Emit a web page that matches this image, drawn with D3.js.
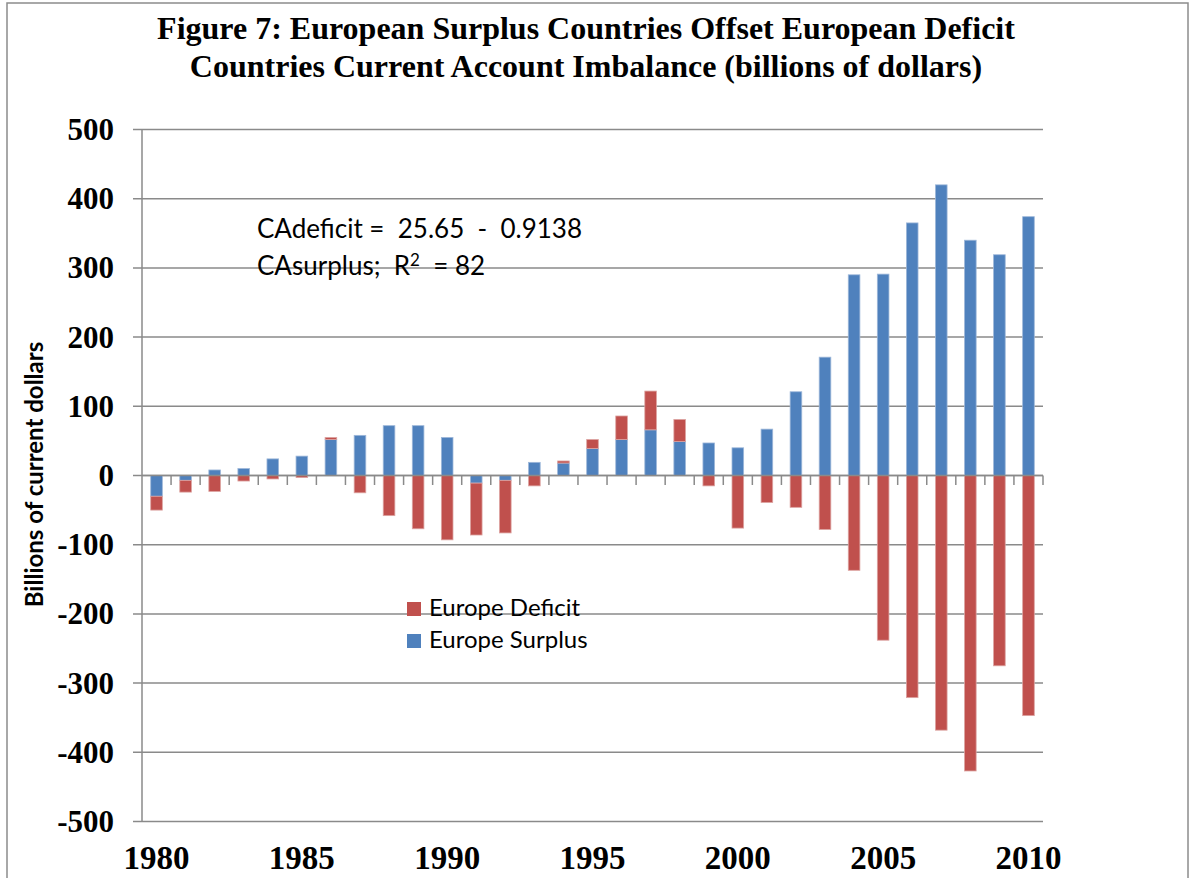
<!DOCTYPE html>
<html>
<head>
<meta charset="utf-8">
<script src="https://cdn.jsdelivr.net/npm/d3@7"></script>
<style>
  body { margin: 0; background: #fff; }
  svg { display: block; }
</style>
</head>
<body>
<svg id="chart"></svg>
<script>
// Years along the x axis
const years = [1980, 1981, 1982, 1983, 1984, 1985, 1986, 1987, 1988, 1989,
               1990, 1991, 1992, 1993, 1994, 1995, 1996, 1997, 1998, 1999,
               2000, 2001, 2002, 2003, 2004, 2005, 2006, 2007, 2008, 2009, 2010];

// Billions of current dollars
const surplus = [-30, -7, 8, 10, 24, 28, 52, 58, 72, 72,
                 55, -11, -7, 19, 18, 39, 52, 66, 49, 47,
                 40, 67, 121, 171, 290, 291, 365, 420, 340, 319, 374];
const deficit = [-20, -17, -23, -8, -5, -3, 3, -25, -58, -77,
                 -93, -75, -76, -15, 3, 13, 34, 56, 32, -15,
                 -76, -39, -46, -78, -137, -238, -321, -368, -427, -275, -347];

const yTicks = [500, 400, 300, 200, 100, 0, -100, -200, -300, -400, -500];
const yearLabels = [1980, 1985, 1990, 1995, 2000, 2005, 2010];

const seriesKeys = ['surplus', 'deficit'];
const seriesNames = { deficit: 'Europe Deficit', surplus: 'Europe Surplus' };
const colors = { surplus: '#4F81BD', deficit: '#C0504D' };
const edges = { surplus: '#9db7d9', deficit: '#dca3a1' };

const W = 1202, H = 878;
const margin = { left: 142, right: 159, top: 129.5, bottom: 56.5 };
const plotW = W - margin.left - margin.right;
const plotH = H - margin.top - margin.bottom;
const serif = '"Liberation Serif", "Times New Roman", serif';
const sans = 'Lato, "Open Sans", sans-serif';

const svg = d3.select('#chart').attr('width', W).attr('height', H);

// outer frame of the figure
svg.append('rect')
    .attr('x', 7).attr('y', 3)
    .attr('width', 1181).attr('height', 900)
    .attr('fill', 'none')
    .attr('stroke', '#8c8c8c')
    .attr('stroke-width', 1.5);

// Title
const title = svg.append('text')
    .attr('text-anchor', 'middle')
    .style('font-family', serif)
    .style('font-weight', 'bold')
    .style('font-size', '32px');
title.append('tspan').attr('x', 586).attr('y', 39)
    .text('Figure 7: European Surplus Countries Offset European Deficit');
title.append('tspan').attr('x', 586).attr('y', 77)
    .text('Countries Current Account Imbalance (billions of dollars)');

const data = years.map((y, i) => ({ year: y, surplus: surplus[i], deficit: deficit[i] }));

const x = d3.scaleBand()
    .domain(years)
    .range([margin.left, margin.left + plotW])
    .paddingInner(0.6)
    .paddingOuter(0.3);

const y = d3.scaleLinear()
    .domain([-500, 500])
    .range([margin.top + plotH, margin.top]);

// gridlines
svg.append('g')
    .selectAll('line')
    .data(yTicks)
    .enter().append('line')
        .attr('x1', margin.left - 9)
        .attr('x2', margin.left + plotW)
        .attr('y1', d => y(d))
        .attr('y2', d => y(d))
        .attr('stroke', '#8a8a8a')
        .attr('stroke-width', 1.5);

// y tick labels
svg.append('g')
    .selectAll('text')
    .data(yTicks)
    .enter().append('text')
        .attr('x', 114)
        .attr('y', d => y(d) + 10.5)
        .attr('text-anchor', 'end')
        .style('font-family', serif)
        .style('font-weight', 'bold')
        .style('font-size', '31px')
        .text(d => d);

// y axis line
svg.append('line')
    .attr('x1', margin.left).attr('x2', margin.left)
    .attr('y1', y(500)).attr('y2', y(-500))
    .attr('stroke', '#8a8a8a')
    .attr('stroke-width', 1.5);

// y axis title
svg.append('text')
    .attr('transform', 'translate(43,' + (y(0) - 1) + ') rotate(-90)')
    .attr('text-anchor', 'middle')
    .style('font-family', sans)
    .style('font-weight', 'bold')
    .style('font-size', '24px')
    .text('Billions of current dollars');

// stacked bars, positive and negative stacked separately like Excel
const stacked = d3.stack()
    .keys(seriesKeys)
    .offset(d3.stackOffsetDiverging)(data);

const barW = x.bandwidth();
svg.append('g')
    .selectAll('g')
    .data(stacked)
    .enter().append('g')
        .attr('fill', s => colors[s.key])
        .attr('stroke', s => edges[s.key])
        .attr('stroke-width', 0.8)
    .selectAll('rect')
    .data(s => s)
    .enter().append('rect')
        .attr('x', d => x(d.data.year))
        .attr('width', barW)
        .attr('y', d => y(Math.max(d[0], d[1])))
        .attr('height', d => Math.abs(y(d[0]) - y(d[1])));

// zero line with category tick marks below it
svg.append('line')
    .attr('x1', margin.left).attr('x2', margin.left + plotW)
    .attr('y1', y(0)).attr('y2', y(0))
    .attr('stroke', '#8a8a8a')
    .attr('stroke-width', 1.5);

svg.append('g')
    .selectAll('line')
    .data(years)
    .enter().append('line')
        .attr('x1', d => x(d) - x.step() * x.paddingOuter() + x.step())
        .attr('x2', d => x(d) - x.step() * x.paddingOuter() + x.step())
        .attr('y1', y(0))
        .attr('y2', y(0) + 9.5)
        .attr('stroke', '#8a8a8a')
        .attr('stroke-width', 1.5);

// year labels at the bottom
svg.append('g')
    .selectAll('text')
    .data(yearLabels)
    .enter().append('text')
        .attr('x', d => x(d) + barW / 2)
        .attr('y', 869)
        .attr('text-anchor', 'middle')
        .style('font-family', serif)
        .style('font-weight', 'bold')
        .style('font-size', '33px')
        .text(d => d);

// regression note
const note = svg.append('text')
    .style('font-family', sans)
    .style('font-size', '26px')
    .style('white-space', 'pre')
    .attr('fill', '#000');
note.append('tspan').attr('x', 257).attr('y', 238).text('CAdeficit =  25.65  -  0.9138');
note.append('tspan').attr('x', 257).attr('y', 275).text('CAsurplus;  R');
note.append('tspan').attr('dy', -9).style('font-size', '17px').text('2');
note.append('tspan').attr('dy', 9).text('  = 82');

// legend
const legend = svg.append('g')
    .selectAll('g')
    .data(['deficit', 'surplus'])
    .enter().append('g')
        .attr('transform', (d, i) => 'translate(407,' + (602 + i * 32) + ')');
legend.append('rect')
    .attr('width', 14).attr('height', 14)
    .attr('fill', d => colors[d]);
legend.append('text')
    .attr('x', 22).attr('y', 14)
    .style('font-family', sans)
    .style('font-size', '24px')
    .text(d => seriesNames[d]);
</script>
</body>
</html>
